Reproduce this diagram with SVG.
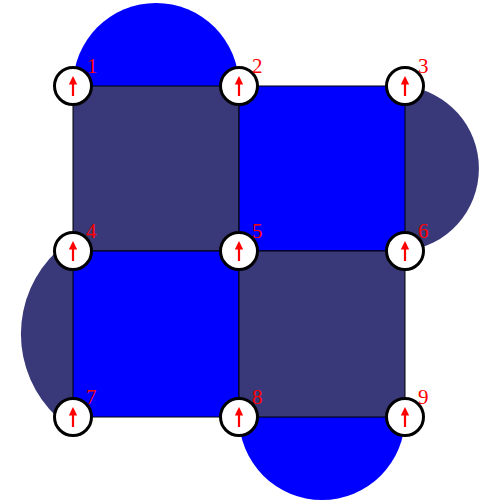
<svg xmlns="http://www.w3.org/2000/svg" width="481" height="502" viewBox="0 0 481 502">
  <defs>
    <style>
      .dark { fill: #393979; }
      .blue { fill: #0000ff; }
      .sq { stroke: #000; stroke-width: 1; }
      .node { fill: #fff; stroke: #000; stroke-width: 3; }
      .shaft { stroke: #ff0000; stroke-width: 2.2; fill: none; }
      .head { fill: #ff0000; }
      .lbl { fill: #ff0000; font-family: "Liberation Serif", "Times New Roman", serif; font-size: 21px; }
    </style>
    <g id="nodeglyph">
      <circle class="node" cx="0" cy="0" r="18.5"/>
      <line class="shaft" x1="0" y1="10" x2="0" y2="-3"/>
      <polygon class="head" points="0,-10 -4.2,-1.5 4.2,-1.5"/>
    </g>
  </defs>
  <rect width="481" height="502" fill="#fff"/>
  <g id="shapes">
    <path class="blue" d="M73,86 A83,83 0 0 1 239,86 Z"/>
    <path class="dark" d="M405,86 A83,83 0 0 1 405,251 Z"/>
    <path class="dark" d="M73,251 L57,251 A113.5,113.5 0 0 0 57,417 L73,417 Z"/>
    <path class="blue" d="M239,417 A83,83 0 0 0 405,417 Z"/>
    <rect class="dark sq" x="73" y="86" width="166" height="165"/>
    <rect class="blue sq" x="239" y="86" width="166" height="165"/>
    <rect class="blue sq" x="73" y="251" width="166" height="166"/>
    <rect class="dark sq" x="239" y="251" width="166" height="166"/>
  </g>
  <g id="connectors"></g>
  <g id="n1"><use href="#nodeglyph" x="73" y="86"/><text class="lbl" x="87" y="73">1</text></g>
  <g id="n2"><use href="#nodeglyph" x="239" y="86"/><text class="lbl" x="252" y="73">2</text></g>
  <g id="n3"><use href="#nodeglyph" x="405" y="86"/><text class="lbl" x="418" y="73">3</text></g>
  <g id="n4"><use href="#nodeglyph" x="73" y="251"/><text class="lbl" x="86" y="238">4</text></g>
  <g id="n5"><use href="#nodeglyph" x="239" y="251"/><text class="lbl" x="252" y="238">5</text></g>
  <g id="n6"><use href="#nodeglyph" x="405" y="251"/><text class="lbl" x="418" y="238">6</text></g>
  <g id="n7"><use href="#nodeglyph" x="73" y="417"/><text class="lbl" x="86" y="404">7</text></g>
  <g id="n8"><use href="#nodeglyph" x="239" y="417"/><text class="lbl" x="252" y="404">8</text></g>
  <g id="n9"><use href="#nodeglyph" x="405" y="417"/><text class="lbl" x="418" y="404">9</text></g>
</svg>
